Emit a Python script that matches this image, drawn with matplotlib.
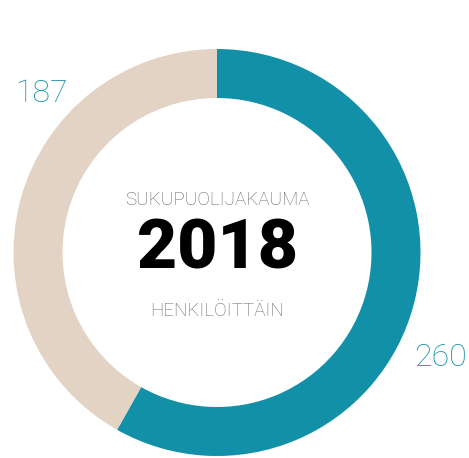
import matplotlib.pyplot as plt

# data
labels = ['nainen', 'mies']
values = [260, 187]
colors = ['#1190a8', '#e3d3c5']
title_top = 'SUKUPUOLIJAKAUMA'
year = '2018'
title_bottom = 'HENKILÖITTÄIN'

W, H = 469, 458
dpi = 100
fig = plt.figure(figsize=(W / dpi, H / dpi), dpi=dpi)
ax = fig.add_axes([0, 0, 1, 1])

cx, cy = 217, H - 252.5
r = 203.5
ax.pie(values, colors=colors, startangle=90, counterclock=False,
       radius=r, center=(cx, cy),
       wedgeprops=dict(width=49, linewidth=0))

ax.set_xlim(0, W)
ax.set_ylim(0, H)
ax.set_aspect('equal')
ax.axis('off')

font = 'Roboto'
ax.text(cx, H - 200, title_top, ha='center', va='center', fontsize=13.5,
        color='#666666', family=font, fontweight='light')
ax.text(cx, H - 250, year, ha='center', va='center', fontsize=50,
        color='black', family=font, fontweight='heavy')
ax.text(cx, H - 311, title_bottom, ha='center', va='center', fontsize=13.5,
        color='#666666', family=font, fontweight='light')

# value labels
ax.text(41, H - 93, str(values[1]), ha='center', va='center', fontsize=23,
        color=colors[0], family=font, fontweight='light')
ax.text(440, H - 357, str(values[0]), ha='center', va='center', fontsize=23,
        color=colors[0], family=font, fontweight='light')

fig.savefig('out.png', dpi=dpi)
